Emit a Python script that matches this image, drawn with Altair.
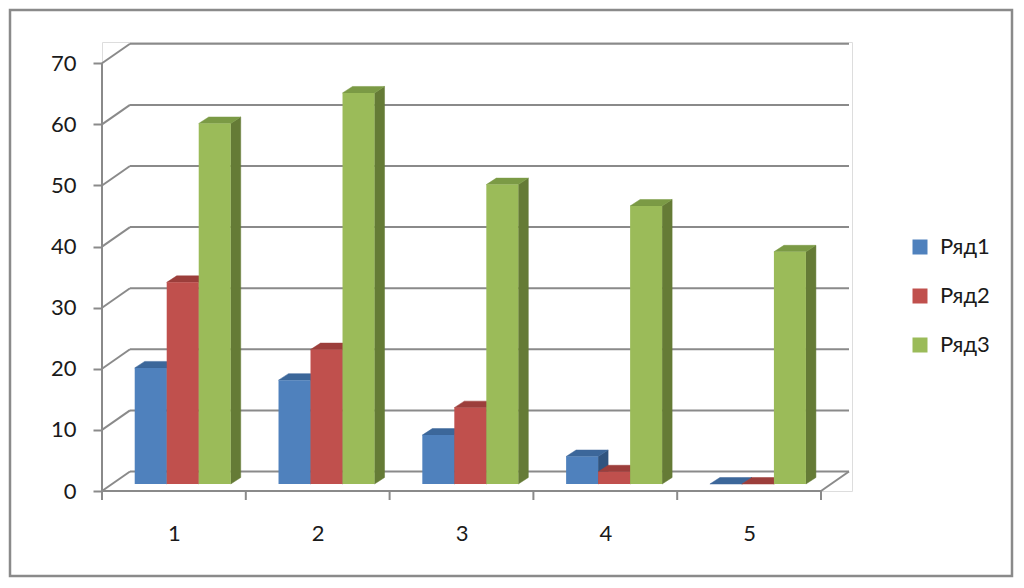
import altair as alt
import pandas as pd

# ---------------- data ----------------
categories = [1, 2, 3, 4, 5]
series_names = ["Ряд1", "Ряд2", "Ряд3"]
series1 = [19, 17, 8, 4.5, 0]
series2 = [33, 22, 12.5, 2, 0]
series3 = [59, 64, 49, 45.5, 38]
y_ticks = [0, 10, 20, 30, 40, 50, 60, 70]

# ---------------- styles ----------------
front_colors = ["#4F81BD", "#C0504D", "#9BBB59"]
top_colors = ["#3C679A", "#9C3E3B", "#7B9A45"]
side_colors = ["#30547F", "#803230", "#657B36"]
grid_color = "#8A8A8A"
FONT = "Lato, 'Open Sans', sans-serif"

# ---------------- geometry (pseudo-3D) ----------------
W, H = 750, 449
PX_X = 143.8          # px per category unit
PX_Y = 6.11           # px per value unit
x_dom = [0.5, 0.5 + W / PX_X]
y_dom = [0, H / PX_Y]

wall_dx, wall_dy = 28 / PX_X, 19.5 / PX_Y
barf_dx, barf_dy = 10 / PX_X, 7 / PX_Y
dep_dx, dep_dy = 10 / PX_X, 6.5 / PX_Y
bw = 32 / PX_X
group_start = -0.342

xs = alt.Scale(domain=x_dom, nice=False, zero=False)
ys = alt.Scale(domain=y_dom, nice=False, zero=False)

x_axis = alt.Axis(values=categories, ticks=False, domain=False, grid=False, title=None,
                  labelFontSize=22, labelFont=FONT, labelColor="#1a1a1a", labelPadding=32,
                  labelFlush=False)
y_axis = alt.Axis(values=y_ticks, domain=False, grid=False, title=None, tickSize=9,
                  tickColor=grid_color, tickWidth=2, labelFontSize=22, labelFont=FONT,
                  labelColor="#1a1a1a", labelPadding=17, labelFlush=False)

all_series = [series1, series2, series3]
front_rows, top_rows, side_rows = [], [], []
for s, (name, vals) in enumerate(zip(series_names, all_series)):
    for c, v in zip(categories, vals):
        bid = f"{name}-{c}"
        x0 = c + group_start + s * bw + barf_dx
        x1 = x0 + bw
        base = barf_dy
        top = v + barf_dy
        front_rows.append(dict(series=name, cat=c, x=x0, x2=x1, y=base, y2=top))
        top_rows += [
            dict(series=name, bar=bid, x=x0, y=top, y2=top),
            dict(series=name, bar=bid, x=x0 + dep_dx, y=top, y2=top + dep_dy),
            dict(series=name, bar=bid, x=x1, y=top, y2=top + dep_dy),
            dict(series=name, bar=bid, x=x1 + dep_dx, y=top + dep_dy, y2=top + dep_dy),
        ]
        side_rows += [
            dict(series=name, bar=bid, x=x1, y=base, y2=top),
            dict(series=name, bar=bid, x=x1 + dep_dx, y=base + dep_dy, y2=top + dep_dy),
        ]
front_df = pd.DataFrame(front_rows)
top_df = pd.DataFrame(top_rows)
side_df = pd.DataFrame(side_rows)

# grid / walls / floor lines
line_rows = []
for v in y_ticks:
    line_rows.append(dict(x=0.5 + wall_dx, x2=5.5 + wall_dx, y=v + wall_dy, y2=v + wall_dy))
    line_rows.append(dict(x=0.5, x2=0.5 + wall_dx, y=v, y2=v + wall_dy))
line_rows.append(dict(x=0.5, x2=5.5, y=0, y2=0))
line_rows.append(dict(x=5.5, x2=5.5 + wall_dx, y=0, y2=wall_dy))
line_rows.append(dict(x=0.5, x2=0.5, y=0, y2=max(y_ticks)))
for b in [c - 0.5 for c in categories] + [categories[-1] + 0.5]:
    line_rows.append(dict(x=b, x2=b, y=0, y2=-9 / PX_Y))
lines_df = pd.DataFrame(line_rows)

X = alt.X("x:Q", scale=xs, axis=x_axis)
Y = alt.Y("y:Q", scale=ys, axis=y_axis)

lines = alt.Chart(lines_df).mark_rule(color=grid_color, strokeWidth=2).encode(
    x=X, x2="x2:Q", y=Y, y2="y2:Q",
)

sides = alt.Chart(side_df).mark_area(strokeWidth=0.5).encode(
    x=X, y=Y, y2="y2:Q",
    detail="bar:N",
    color=alt.Color("series:N", scale=alt.Scale(domain=series_names, range=side_colors), legend=None),
    stroke=alt.Stroke("series:N", scale=alt.Scale(domain=series_names, range=side_colors), legend=None),
)

tops = alt.Chart(top_df).mark_area(strokeWidth=0.5).encode(
    x=X, y=Y, y2="y2:Q",
    detail="bar:N",
    color=alt.Color("series:N", scale=alt.Scale(domain=series_names, range=top_colors), legend=None),
    stroke=alt.Stroke("series:N", scale=alt.Scale(domain=series_names, range=top_colors), legend=None),
)

fronts = alt.Chart(front_df).mark_rect().encode(
    x=X, x2="x2:Q", y=Y, y2="y2:Q",
    color=alt.Color("series:N", scale=alt.Scale(domain=series_names, range=front_colors),
                    legend=alt.Legend(title=None, orient="none", legendX=807, legendY=194,
                                      symbolType="square", symbolSize=225, symbolStrokeWidth=0,
                                      labelFontSize=22, labelFont=FONT, labelColor="#1a1a1a",
                                      labelOffset=9, rowPadding=27, padding=0)),
)

frame = alt.Chart(pd.DataFrame({"k": [0]})).mark_rect(
    fill=None, stroke="#8A8A8A", strokeWidth=2.5
).encode(x=alt.value(-92), x2=alt.value(910), y=alt.value(-32), y2=alt.value(534))

chart = alt.layer(frame, lines, sides, tops, fronts).resolve_scale(
    color="independent", stroke="independent"
).properties(
    width=W, height=H,
    autosize=alt.AutoSizeParams(type="none"),
    padding={"left": 94, "top": 34, "right": 162, "bottom": 87},
).configure_view(stroke=None).configure(background="white")

chart.save("out.html", embed_options={"renderer": "svg", "actions": False})
